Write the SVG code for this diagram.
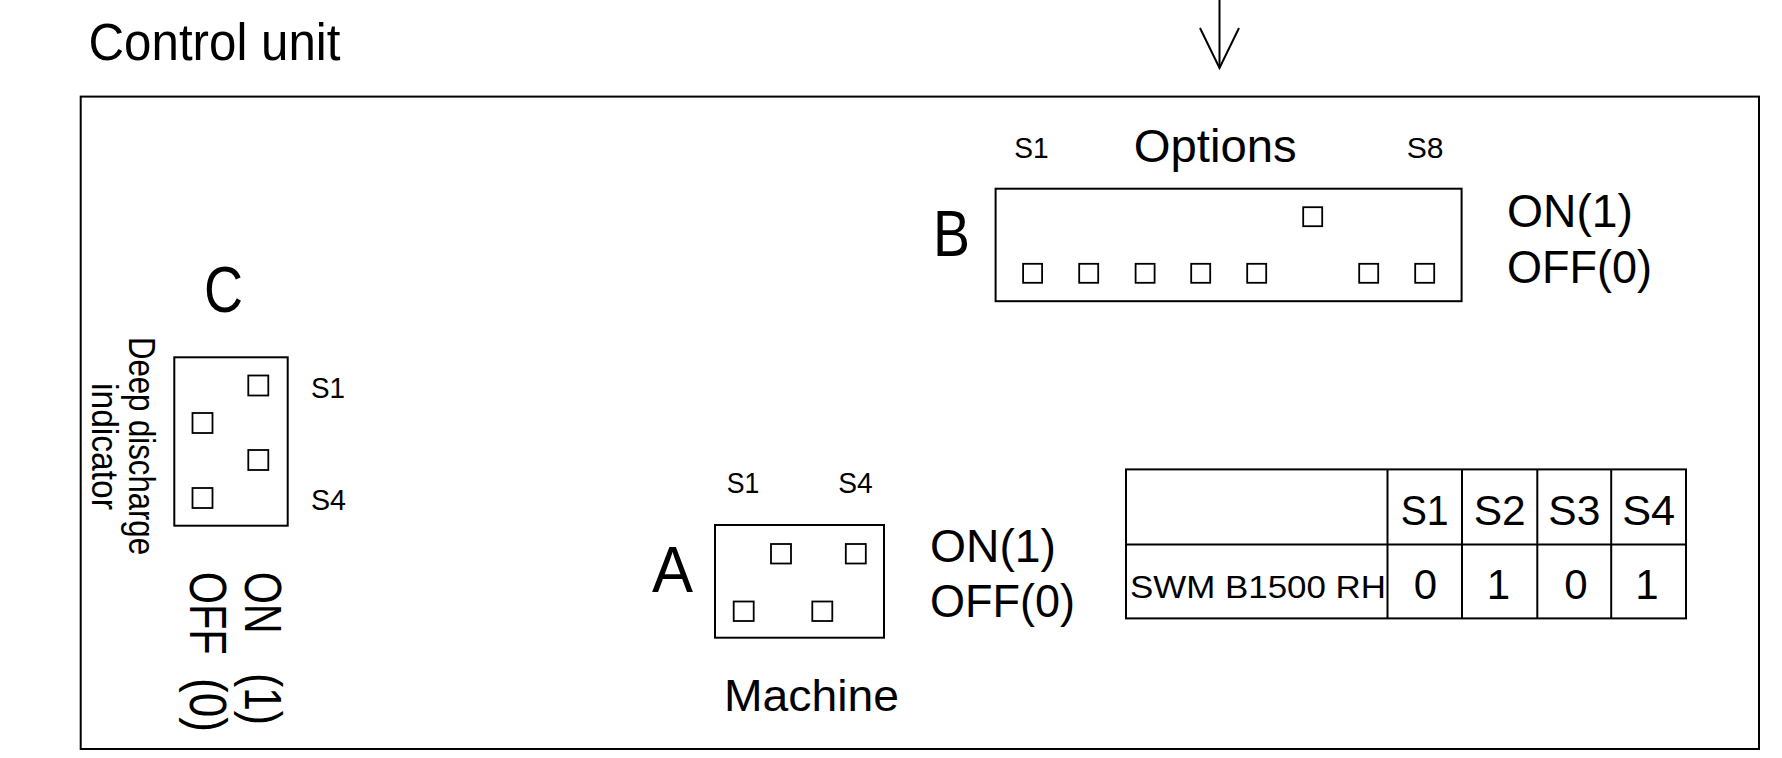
<svg xmlns="http://www.w3.org/2000/svg" width="1782" height="758" viewBox="0 0 1782 758">
<defs>
<style>
text{font-family:"Liberation Sans",Arial,sans-serif;fill:#000}
.box{fill:#fff;stroke:#000;stroke-width:2}
.sq{fill:none;stroke:#000;stroke-width:1.8}
.ln{fill:none;stroke:#000;stroke-width:2}
.big{font-size:64px}
.mid{font-size:46px}
.sm{font-size:30px}
.tb{font-size:42px;text-anchor:middle}
</style>
</defs>
<rect width="1782" height="758" fill="#fff"/>
<text x="88.5" y="60" font-size="51" textLength="252" lengthAdjust="spacingAndGlyphs">Control unit</text>
<rect id="control-unit" class="box" x="80.7" y="96.6" width="1678.3" height="652.4"/>
<g id="connectors">
<line class="ln" x1="1219.5" y1="0" x2="1219.5" y2="68"/>
<polyline class="ln" points="1200,28 1219.5,68 1239,28"/>
</g>
<g id="switch-B">
<text x="1133.7" y="162.3" font-size="47" textLength="163" lengthAdjust="spacingAndGlyphs">Options</text>
<text class="sm" x="1014.3" y="158.3" textLength="34.4" lengthAdjust="spacingAndGlyphs">S1</text>
<text class="sm" x="1406.8" y="158.3" textLength="36.8" lengthAdjust="spacingAndGlyphs">S8</text>
<text class="big" x="933" y="256" textLength="37" lengthAdjust="spacingAndGlyphs">B</text>
<rect class="box" x="995.6" y="188.7" width="466" height="112.5"/>
<rect class="sq" x="1023.1" y="263.8" width="19" height="19"/>
<rect class="sq" x="1079.2" y="263.8" width="19" height="19"/>
<rect class="sq" x="1135.6" y="263.8" width="19" height="19"/>
<rect class="sq" x="1191.2" y="263.8" width="19" height="19"/>
<rect class="sq" x="1247.2" y="263.8" width="19" height="19"/>
<rect class="sq" x="1303.2" y="207.2" width="19" height="19"/>
<rect class="sq" x="1359.2" y="263.8" width="19" height="19"/>
<rect class="sq" x="1415.2" y="263.8" width="19" height="19"/>
<text class="mid" x="1507" y="227" textLength="126" lengthAdjust="spacingAndGlyphs">ON(1)</text>
<text class="mid" x="1507" y="282.5" textLength="145" lengthAdjust="spacingAndGlyphs">OFF(0)</text>
</g>
<g id="switch-C">
<text class="big" x="204" y="311.5" textLength="39" lengthAdjust="spacingAndGlyphs">C</text>
<rect class="box" x="174.3" y="357.3" width="113.4" height="168.4"/>
<rect class="sq" x="248.3" y="375.5" width="20" height="20"/>
<rect class="sq" x="192.5" y="413" width="20" height="20"/>
<rect class="sq" x="248.3" y="450" width="20" height="20"/>
<rect class="sq" x="192.5" y="488" width="20" height="20"/>
<text class="sm" x="311" y="398" textLength="34" lengthAdjust="spacingAndGlyphs">S1</text>
<text class="sm" x="311" y="510" textLength="35" lengthAdjust="spacingAndGlyphs">S4</text>
<g font-size="36" text-anchor="middle">
<text transform="translate(128.5,446) rotate(90)" textLength="218" lengthAdjust="spacingAndGlyphs">Deep discharge</text>
<text transform="translate(92,446.5) rotate(90)" textLength="127" lengthAdjust="spacingAndGlyphs">indicator</text>
</g>
<g font-size="52">
<text transform="translate(245,571.7) rotate(90)" textLength="62" lengthAdjust="spacingAndGlyphs">ON</text>
<text transform="translate(245,673) rotate(90)" textLength="52" lengthAdjust="spacingAndGlyphs">(1)</text>
<text transform="translate(190,571.7) rotate(90)" textLength="83" lengthAdjust="spacingAndGlyphs">OFF</text>
<text transform="translate(190,678) rotate(90)" textLength="54" lengthAdjust="spacingAndGlyphs">(0)</text>
</g>
</g>
<g id="switch-A">
<text class="sm" x="726.7" y="493.3" textLength="32.6" lengthAdjust="spacingAndGlyphs">S1</text>
<text class="sm" x="838.3" y="493.3" textLength="34.4" lengthAdjust="spacingAndGlyphs">S4</text>
<text class="big" x="652" y="591.7" textLength="41" lengthAdjust="spacingAndGlyphs">A</text>
<rect class="box" x="715" y="525" width="169" height="112.7"/>
<rect class="sq" x="771" y="544" width="20" height="19.5"/>
<rect class="sq" x="845.8" y="544" width="20" height="19.5"/>
<rect class="sq" x="733.7" y="601.5" width="20" height="19.5"/>
<rect class="sq" x="812.3" y="601.5" width="20" height="19.5"/>
<text class="mid" x="930" y="561.7" textLength="126" lengthAdjust="spacingAndGlyphs">ON(1)</text>
<text class="mid" x="930" y="616.7" textLength="145" lengthAdjust="spacingAndGlyphs">OFF(0)</text>
<text x="724" y="711" font-size="44" textLength="175" lengthAdjust="spacingAndGlyphs">Machine</text>
</g>
<g id="table">
<rect class="box" x="1126" y="469.4" width="560" height="149"/>
<line class="ln" x1="1126" y1="544.4" x2="1686" y2="544.4"/>
<line class="ln" x1="1387.5" y1="469.4" x2="1387.5" y2="618.4"/>
<line class="ln" x1="1462" y1="469.4" x2="1462" y2="618.4"/>
<line class="ln" x1="1537.3" y1="469.4" x2="1537.3" y2="618.4"/>
<line class="ln" x1="1611.2" y1="469.4" x2="1611.2" y2="618.4"/>
<text class="tb" x="1424.7" y="525" textLength="48" lengthAdjust="spacingAndGlyphs">S1</text>
<text class="tb" x="1499.7" y="525" textLength="52" lengthAdjust="spacingAndGlyphs">S2</text>
<text class="tb" x="1574.3" y="525" textLength="52" lengthAdjust="spacingAndGlyphs">S3</text>
<text class="tb" x="1648.7" y="525" textLength="53" lengthAdjust="spacingAndGlyphs">S4</text>
<text x="1130" y="598.3" font-size="32" textLength="256" lengthAdjust="spacingAndGlyphs">SWM B1500 RH</text>
<text class="tb" x="1425.5" y="599.3">0</text>
<text class="tb" x="1498.5" y="599.3">1</text>
<text class="tb" x="1576" y="599.3">0</text>
<text class="tb" x="1647" y="599.3">1</text>
</g>
</svg>
